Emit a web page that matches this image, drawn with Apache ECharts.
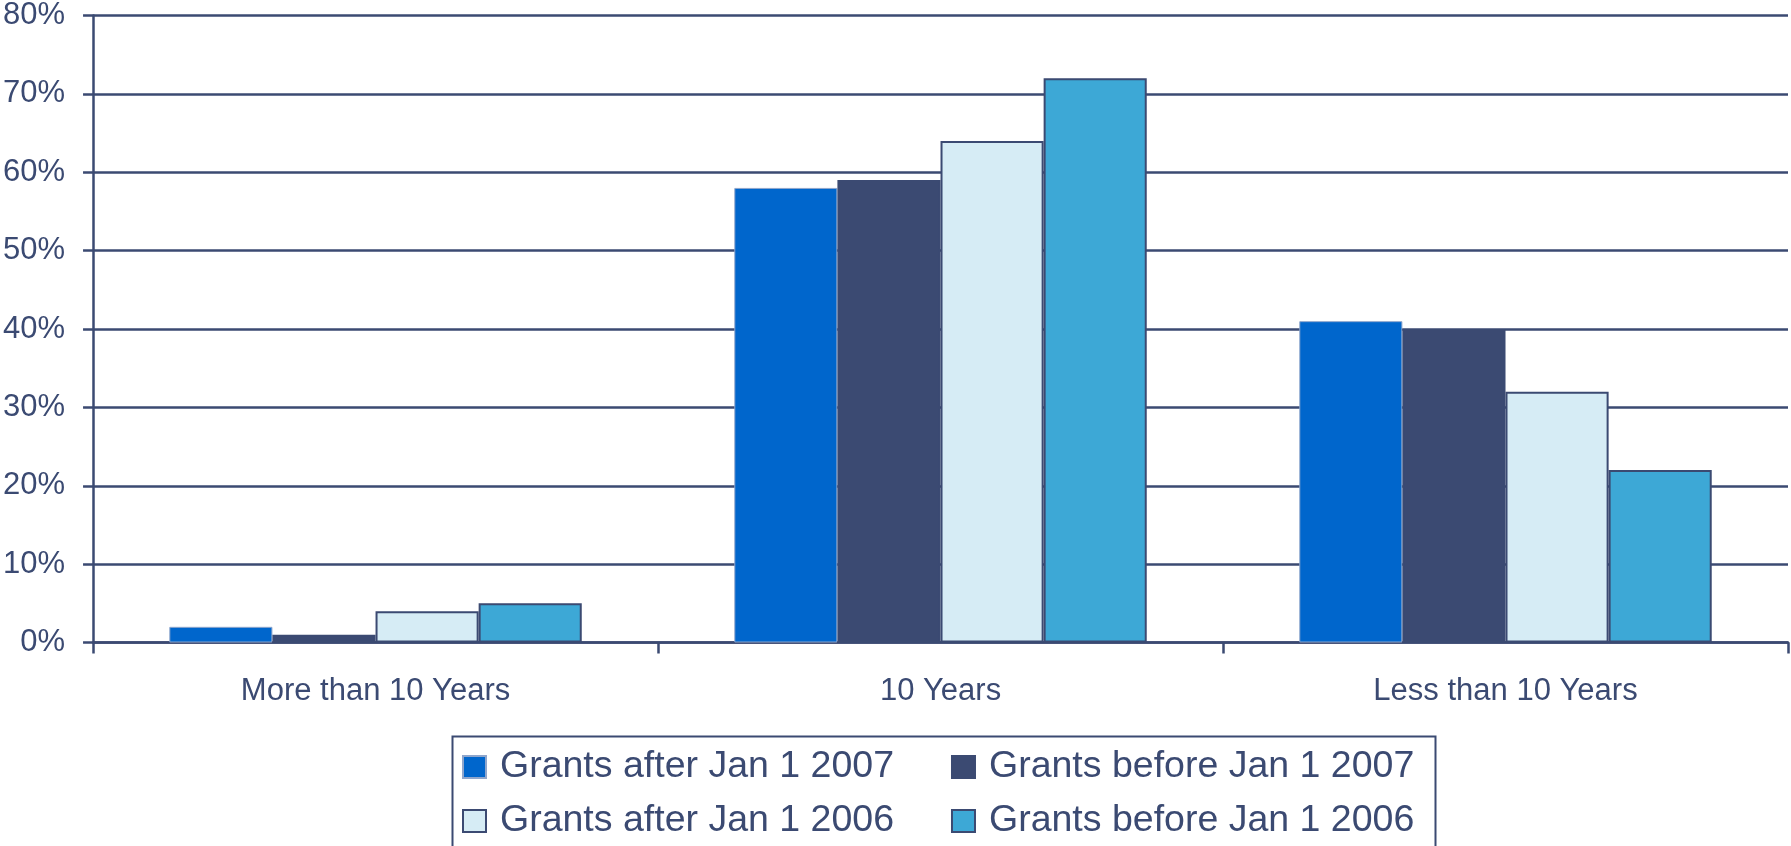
<!DOCTYPE html>
<html>
<head>
<meta charset="utf-8">
<script src="https://cdn.jsdelivr.net/npm/echarts@6/dist/echarts.min.js"></script>
<style>
  html, body { margin: 0; padding: 0; background: #fff; }
  #chart { width: 1791px; height: 846px; }
</style>
</head>
<body>
<div id="chart"></div>
<script>
// categories and values (percent)
const categories = ['More than 10 Years', '10 Years', 'Less than 10 Years'];
const seriesNames = ['Grants after Jan 1 2007', 'Grants before Jan 1 2007', 'Grants after Jan 1 2006', 'Grants before Jan 1 2006'];
const after2007 = [2, 58, 41];
const before2007 = [1, 59, 40];
const after2006 = [4, 64, 32];
const before2006 = [5, 72, 22];
const yTicks = [0, 10, 20, 30, 40, 50, 60, 70, 80];

const navy = '#3b4a72';
const font = 'Liberation Sans, Arial, sans-serif';
const colors = ['#0066cc', '#3b4a72', '#d6ecf5', '#3da8d6'];
const borders = ['#8fa6cc', navy, navy, navy];
const values = [after2007, before2007, after2006, before2006];

const chart = echarts.init(document.getElementById('chart'));

const legendText = { color: navy, fontSize: 37.5, fontFamily: font, padding: [0, 0, 0, 9] };

const option = {
  animation: false,
  backgroundColor: '#fff',
  grid: { left: 92, right: 3, top: 13.5, bottom: 203.5, containLabel: false },
  legend: [
    {
      data: seriesNames.slice(0, 2),
      left: 462, top: 748, padding: 0,
      itemWidth: 23, itemHeight: 22, itemGap: 57,
      icon: 'rect',
      textStyle: legendText
    },
    {
      data: seriesNames.slice(2, 4),
      left: 462, top: 802, padding: 0,
      itemWidth: 23, itemHeight: 22, itemGap: 57,
      icon: 'rect',
      textStyle: legendText
    }
  ],
  graphic: [{
    type: 'rect',
    left: 450, top: 734,
    shape: { width: 983, height: 130 },
    style: { fill: 'none', stroke: navy, lineWidth: 2 },
    silent: true
  }],
  xAxis: {
    type: 'category',
    data: categories,
    axisLine: { lineStyle: { color: navy, width: 2.5 } },
    axisTick: { show: true, length: 11, lineStyle: { color: navy, width: 2.5 } },
    axisLabel: { color: navy, fontSize: 31, fontFamily: font, margin: 33 }
  },
  yAxis: {
    type: 'value',
    min: yTicks[0],
    max: yTicks[yTicks.length - 1],
    interval: 10,
    axisLine: { show: true, lineStyle: { color: navy, width: 2.5 } },
    axisTick: { show: true, length: 10, lineStyle: { color: navy, width: 2.5 } },
    axisLabel: { color: navy, fontSize: 31, fontFamily: font, margin: 28, formatter: '{value}%' },
    splitLine: { show: true, lineStyle: { color: navy, width: 2.5 } }
  },
  series: seriesNames.map((name, i) => ({
    name: name,
    type: 'bar',
    data: values[i],
    barGap: '0%',
    barCategoryGap: '27%',
    itemStyle: { color: colors[i], borderColor: borders[i], borderWidth: i === 0 ? 1 : 2 }
  }))
};

chart.setOption(option);
</script>
</body>
</html>
